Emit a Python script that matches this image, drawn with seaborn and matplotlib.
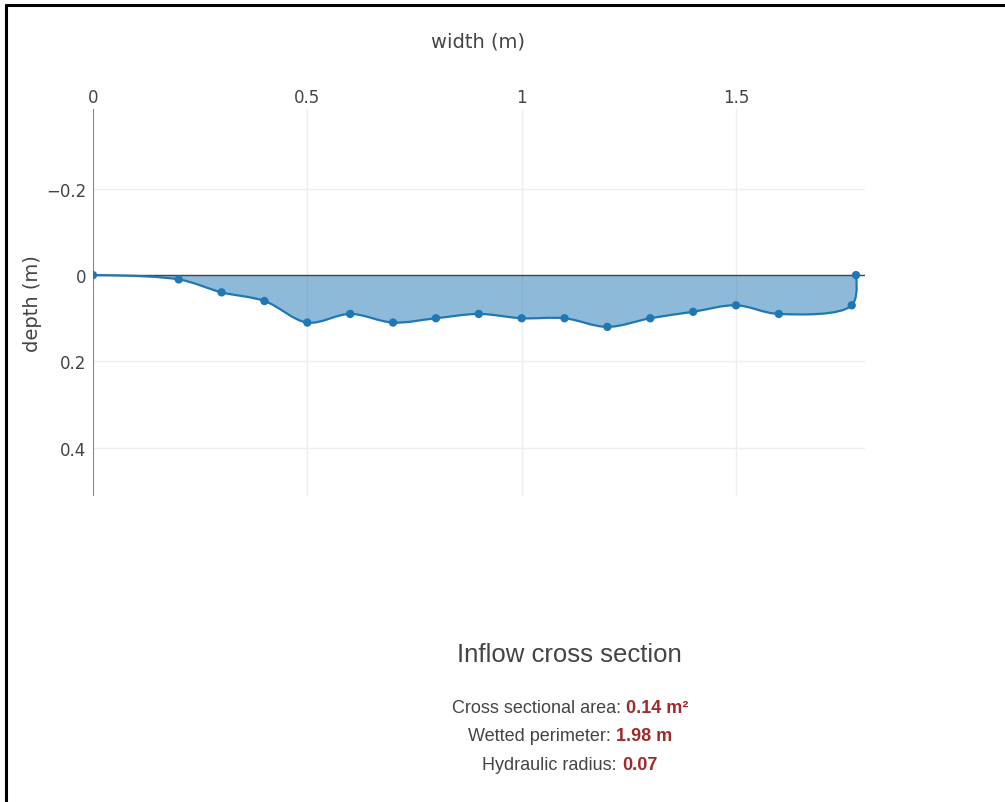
import numpy as np
import matplotlib
matplotlib.use("Agg")
import matplotlib.pyplot as plt
import seaborn as sns
from matplotlib.path import Path
from matplotlib.patches import PathPatch
from matplotlib.offsetbox import TextArea, HPacker, VPacker, AnchoredOffsetbox
from matplotlib.lines import Line2D

# cross section survey (width and depth in m)
width = [0, 0.2, 0.3, 0.4, 0.5, 0.6, 0.7, 0.8, 0.9, 1.0, 1.1, 1.2, 1.3, 1.4, 1.5, 1.6, 1.77, 1.78]
depth = [0, 0.01, 0.04, 0.06, 0.11, 0.09, 0.11, 0.10, 0.09, 0.10, 0.10, 0.12, 0.10, 0.085, 0.07, 0.09, 0.07, 0]

x_ticks = [0, 0.5, 1, 1.5]
y_ticks = [-0.2, 0, 0.2, 0.4]

title = "Inflow cross section"
stat_names = ["Cross sectional area: ", "Wetted perimeter: ", "Hydraulic radius: "]
stat_values = ["0.14 m\u00b2", "1.98 m", "0.07"]

blue = "#1f77b4"
grey = "#444444"
red = "#a02a2a"


def tangent(p0, p1, p2, smooth=1.0):
    # catmull-rom style control points, like plotly's spline shape
    d1 = p0 - p1
    d2 = p2 - p1
    d1a = np.hypot(*d1) ** 0.5
    d2a = np.hypot(*d2) ** 0.5
    num = (d2a * d2a * d1 - d1a * d1a * d2) * smooth
    den1 = 3 * d2a * (d1a + d2a)
    den2 = 3 * d1a * (d1a + d2a)
    return p1 + num / den1, p1 - num / den2


def spline_path(xs, ys):
    pts = np.column_stack([xs, ys]).astype(float)
    tans = [tangent(pts[i - 1], pts[i], pts[i + 1]) for i in range(1, len(pts) - 1)]
    verts = [pts[0], tans[0][0], pts[1]]
    codes = [Path.MOVETO, Path.CURVE3, Path.CURVE3]
    for i in range(2, len(pts) - 1):
        verts += [tans[i - 2][1], tans[i - 1][0], pts[i]]
        codes += [Path.CURVE4] * 3
    verts += [tans[-1][1], pts[-1]]
    codes += [Path.CURVE3] * 2
    return verts, codes


sns.set_theme(style="white")
plt.rcParams["font.family"] = ["DejaVu Sans"]

fig = plt.figure(figsize=(10.05, 8.03), dpi=100)
ax = fig.add_axes([93 / 1005, 1 - 497 / 803, 772 / 1005, 387 / 803])

verts, codes = spline_path(width, depth)
fill = Path(verts + [verts[0]], codes + [Path.CLOSEPOLY])
ax.add_patch(PathPatch(fill, facecolor=blue, alpha=0.5, edgecolor="none", zorder=2))
ax.add_patch(PathPatch(Path(verts, codes), facecolor="none", edgecolor=blue, lw=1.6, zorder=3))
sns.scatterplot(x=width, y=depth, color=blue, s=36, edgecolor="none", zorder=4, ax=ax)

ax.axhline(0, color=grey, lw=1, zorder=2.5)
ax.axvline(0, color="#777777", lw=1.3, zorder=2.5)

ax.set_xlim(0, 1.801)
ax.set_ylim(0.512, -0.385)
ax.set_xticks(x_ticks)
ax.set_xticklabels(["0", "0.5", "1", "1.5"])
ax.set_yticks(y_ticks)
ax.set_yticklabels(["\u22120.2", "0", "0.2", "0.4"])
ax.xaxis.tick_top()
ax.tick_params(axis="both", length=0, labelsize=12, labelcolor=grey)
ax.tick_params(axis="x", pad=2)
ax.tick_params(axis="y", pad=5)
ax.grid(True, color="#eeeeee", lw=1)
ax.set_axisbelow(True)
for s in ax.spines.values():
    s.set_visible(False)

ax.set_xlabel("width (m)", fontsize=14, color=grey)
ax.xaxis.set_label_position("top")
ax.xaxis.label.set_va("center")
ax.xaxis.set_label_coords(0.499, 1.175)
ax.set_ylabel("depth (m)", fontsize=14, color=grey)
ax.yaxis.label.set_va("center")
ax.yaxis.set_label_coords(-0.078, 0.5)

fig.text(0.567, 1 - 655 / 803, title, ha="center", va="center",
         fontsize=18.5, color=grey, family="Liberation Sans")

rows = []
for name, val in zip(stat_names, stat_values):
    a = TextArea(name, textprops=dict(color=grey, fontsize=13, family="Liberation Sans"))
    b = TextArea(val, textprops=dict(color=red, fontsize=13, family="Liberation Sans",
                                     weight="bold"))
    rows.append(HPacker(children=[a, b], align="baseline", pad=0, sep=0))
box = VPacker(children=rows, align="center", pad=0, sep=8)
anchored = AnchoredOffsetbox(loc="center", child=box, frameon=False,
                             bbox_to_anchor=(0.567, 1 - 737 / 803),
                             bbox_transform=fig.transFigure, borderpad=0)
fig.add_artist(anchored)

# page frame: left and top edges
fig.add_artist(Line2D([6 / 1005, 6 / 1005], [0, 1 - 6 / 803], color="black", lw=2.2,
                      transform=fig.transFigure))
fig.add_artist(Line2D([6 / 1005, 1], [1 - 6 / 803, 1 - 6 / 803], color="black", lw=2.2,
                      transform=fig.transFigure))

fig.savefig("out.png", dpi=100, facecolor="white")
